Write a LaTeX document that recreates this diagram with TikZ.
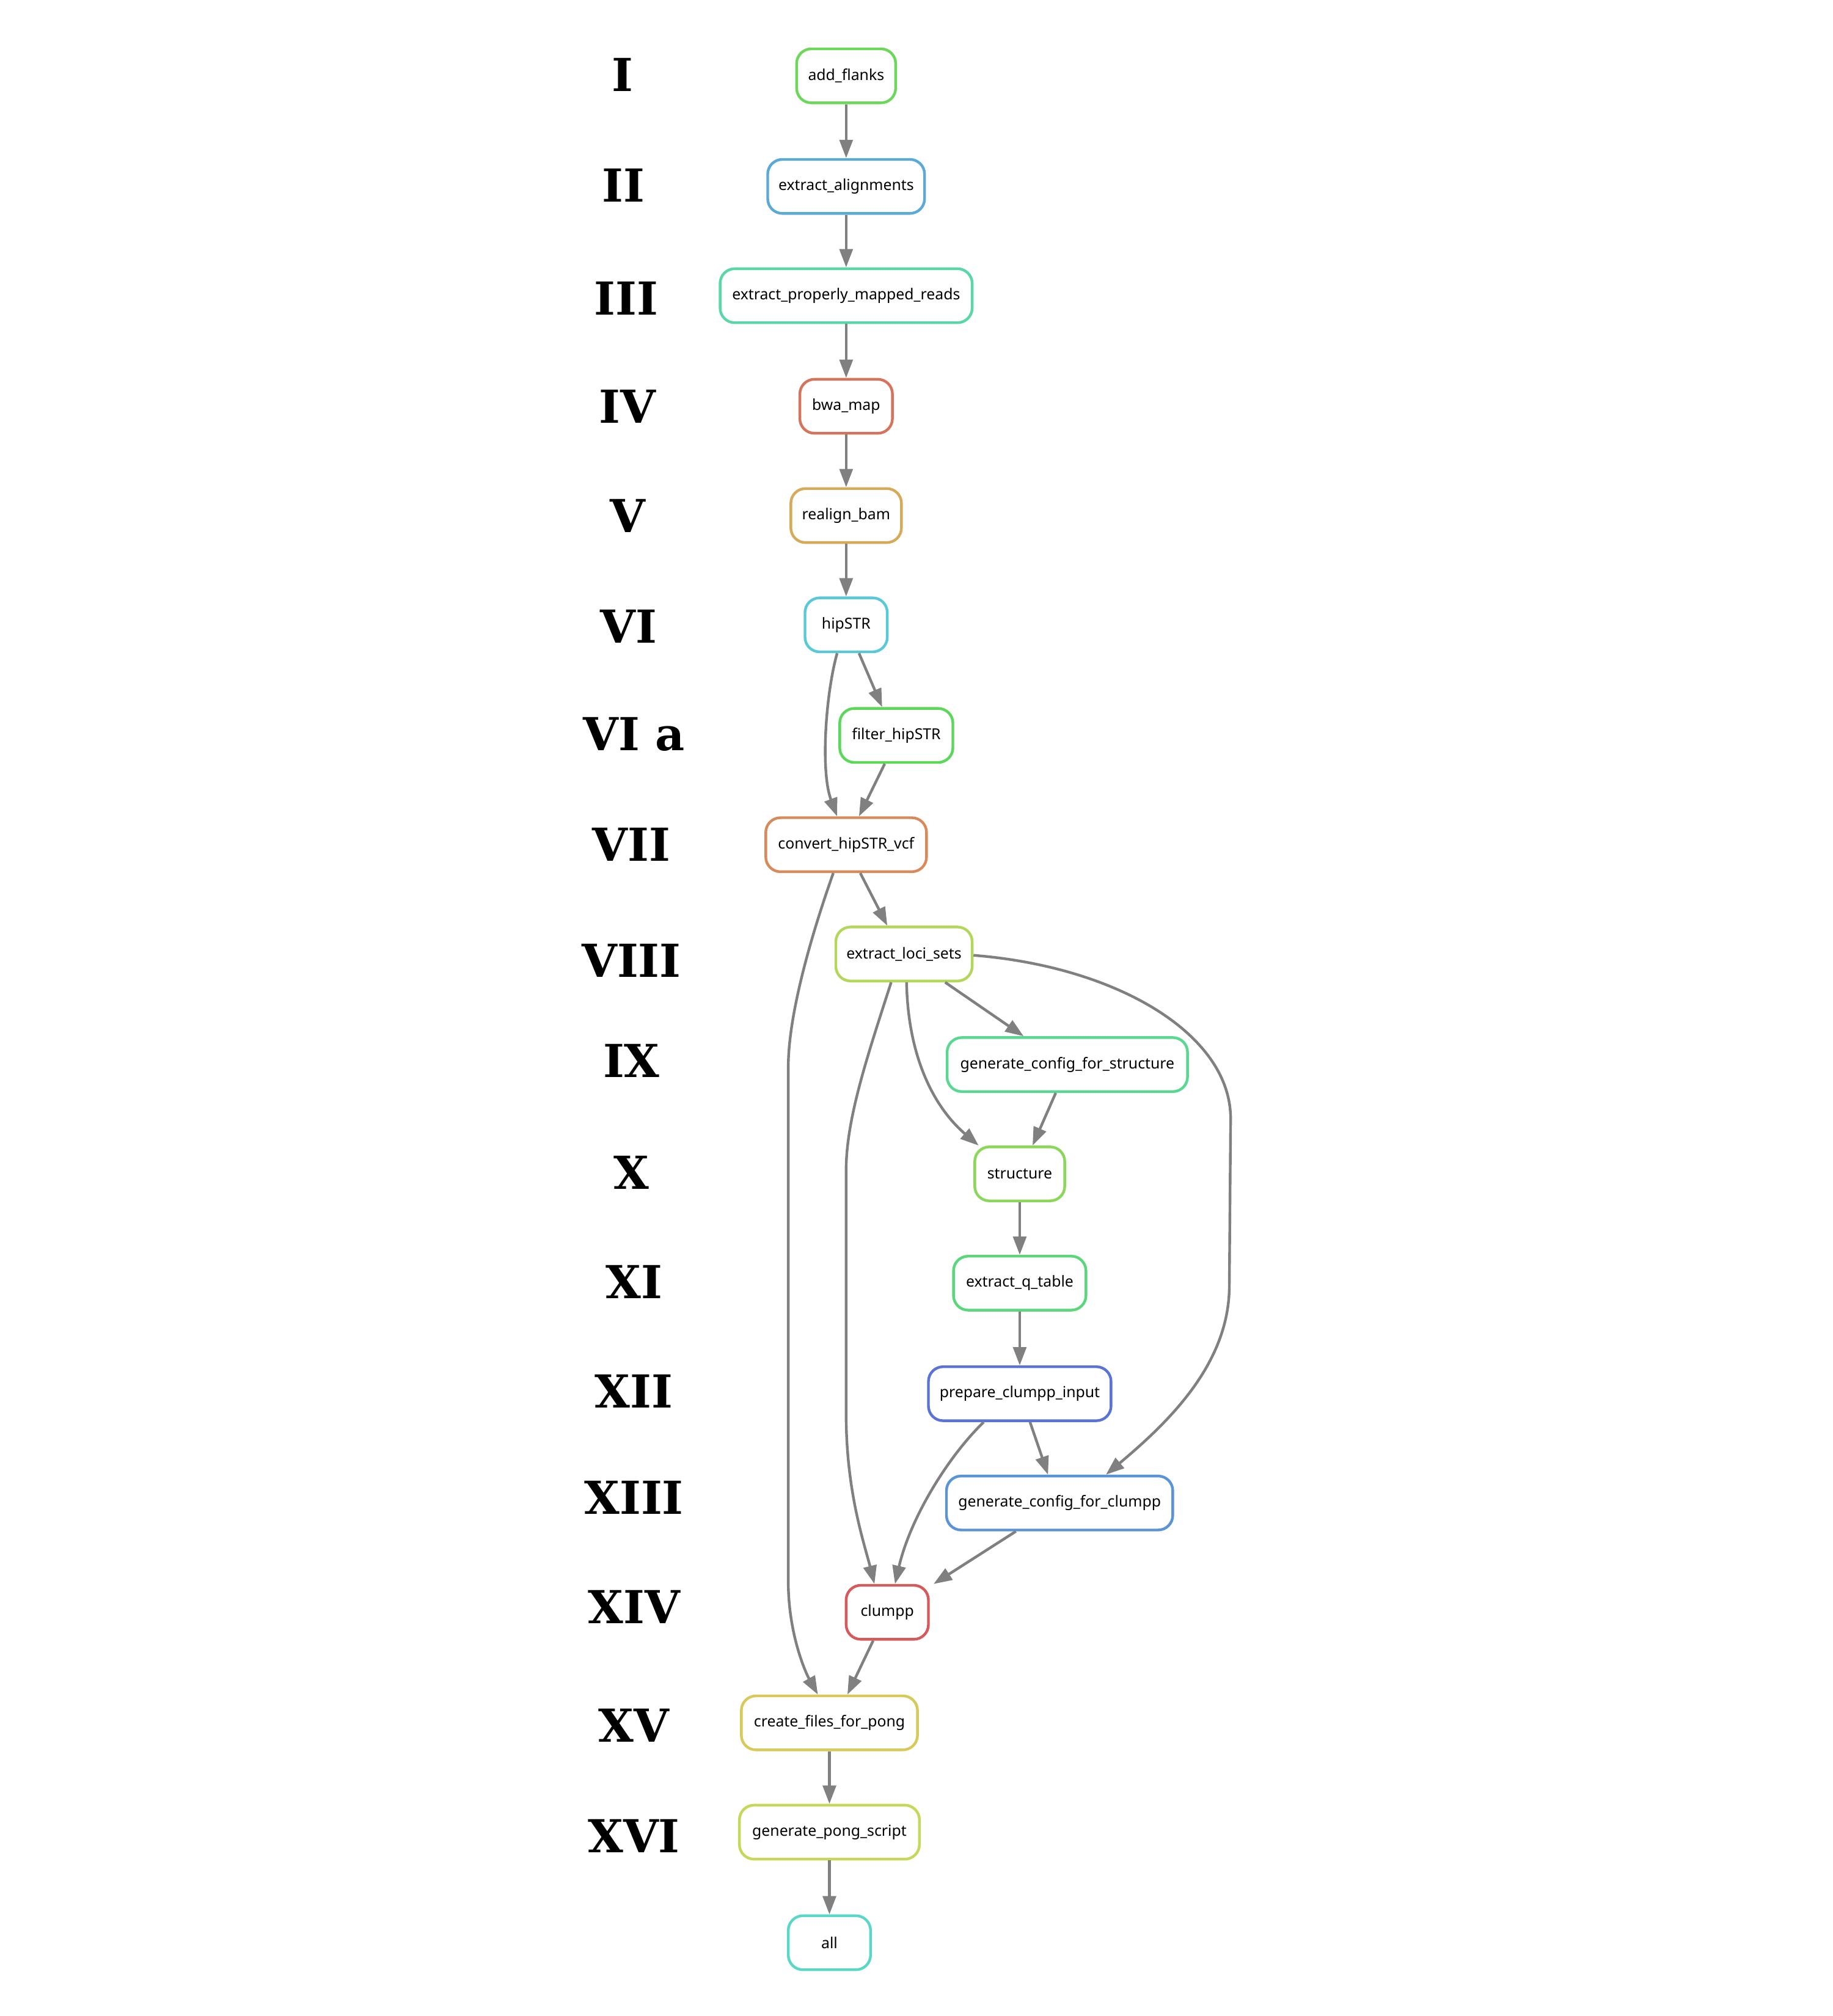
\documentclass[tikz,border=0pt]{standalone}
\usepackage{fontspec}
\setmainfont{Liberation Serif}
\newfontfamily\nodefont{Noto Sans}
\newfontfamily\lblfont{DejaVu Serif}
\usetikzlibrary{arrows.meta}
\newlength\un \setlength\un{0.5263pt}
\definecolor{edgegray}{HTML}{808080}
\definecolor{cA}{HTML}{6DD75A}
\definecolor{cB}{HTML}{5AA9D7}
\definecolor{cC}{HTML}{5AD7A6}
\definecolor{cD}{HTML}{D7735A}
\definecolor{cE}{HTML}{D7AA5A}
\definecolor{cF}{HTML}{5AC9D7}
\definecolor{cG}{HTML}{5BD75A}
\definecolor{cH}{HTML}{D78B5A}
\definecolor{cI}{HTML}{B2D75A}
\definecolor{cJ}{HTML}{5AD790}
\definecolor{cK}{HTML}{8BD75A}
\definecolor{cL}{HTML}{5AD77A}
\definecolor{cM}{HTML}{5A73D7}
\definecolor{cN}{HTML}{5A94D7}
\definecolor{cO}{HTML}{D75A5A}
\definecolor{cP}{HTML}{D7C95A}
\definecolor{cQ}{HTML}{C6D75A}
\definecolor{cR}{HTML}{5AD7C6}
\begin{document}
\begin{tikzpicture}[x=0.5263pt,y=-0.5263pt,
  box/.style={draw, line width=1.1pt, rounded corners=6pt, fill=white,
    minimum height=42*\un, inner sep=0pt,
    font=\nodefont\fontsize{6.2pt}{7.5pt}\selectfont},
  edge/.style={line width=1.1pt, draw=edgegray,
    -{Triangle[length=7.5pt,width=5.4pt,fill=edgegray]}},
  lbl/.style={font=\lblfont\bfseries\fontsize{18.6pt}{22pt}\selectfont, inner sep=0pt}]
\fill[white] (0,0) rectangle (1425,1568);
\useasboundingbox (0,0) rectangle (1425,1568);

% row labels
\node[lbl] (l1)  at (484,58)   {I};
\node[lbl] (l2)  at (485,144)  {II};
\node[lbl] (l3)  at (487,232)  {III};
\node[lbl] (l4)  at (488,316)  {IV};
\node[lbl] (l5)  at (488,401)  {V};
\node[lbl] (l6)  at (489,487)  {VI};
\node[lbl] (l6a) at (493,571)  {VI a};
\node[lbl] (l7)  at (491,657)  {VII};
\node[lbl] (l8)  at (491,747)  {VIII};
\node[lbl] (l9)  at (491,825)  {IX};
\node[lbl] (l10) at (491,912)  {X};
\node[lbl] (l11) at (493,997)  {XI};
\node[lbl] (l12) at (493,1082) {XII};
\node[lbl] (l13) at (493,1165) {XIII};
\node[lbl] (l14) at (493,1250) {XIV};
\node[lbl] (l15) at (493,1342) {XV};
\node[lbl] (l16) at (493,1428) {XVI};

% nodes
\node[box, draw=cA, minimum width=77*\un]  (af)   at (658,59)   {add\_flanks};
\node[box, draw=cB, minimum width=122*\un] (ea)   at (658,145)  {extract\_alignments};
\node[box, draw=cC, minimum width=196*\un] (epmr) at (658,230)  {extract\_properly\_mapped\_reads};
\node[box, draw=cD, minimum width=72*\un]  (bwa)  at (658,316)  {bwa\_map};
\node[box, draw=cE, minimum width=86*\un]  (rb)   at (658,401)  {realign\_bam};
\node[box, draw=cF, minimum width=64*\un]  (hip)  at (658,486)  {hipSTR};
\node[box, draw=cG, minimum width=88*\un]  (fh)   at (697,572)  {filter\_hipSTR};
\node[box, draw=cH, minimum width=125*\un] (chv)  at (658,657)  {convert\_hipSTR\_vcf};
\node[box, draw=cI, minimum width=106*\un] (els)  at (703,742)  {extract\_loci\_sets};
\node[box, draw=cJ, minimum width=187*\un] (gcfs) at (830,828)  {generate\_config\_for\_structure};
\node[box, draw=cK, minimum width=70*\un]  (str)  at (793,913)  {structure};
\node[box, draw=cL, minimum width=103*\un] (eqt)  at (793,998)  {extract\_q\_table};
\node[box, draw=cM, minimum width=142*\un] (pci)  at (793,1084) {prepare\_clumpp\_input};
\node[box, draw=cN, minimum width=176*\un] (gcfc) at (824,1169) {generate\_config\_for\_clumpp};
\node[box, draw=cO, minimum width=64*\un]  (clu)  at (690,1254) {clumpp};
\node[box, draw=cP, minimum width=137*\un] (cffp) at (645,1340) {create\_files\_for\_pong};
\node[box, draw=cQ, minimum width=140*\un] (gps)  at (645,1425) {generate\_pong\_script};
\node[box, draw=cR, minimum width=64*\un]  (all)  at (645,1511) {all};

% edges
\draw[edge] (af) -- (ea);
\draw[edge] (ea) -- (epmr);
\draw[edge] (epmr) -- (bwa);
\draw[edge] (bwa) -- (rb);
\draw[edge] (rb) -- (hip);
\draw[edge] ([xshift=10*\un]hip.south) -- ([xshift=-11*\un]fh.north);
\draw[edge] ([xshift=-7*\un]hip.south) .. controls (642,540) and (638,600) .. ([xshift=-7*\un]chv.north);
\draw[edge] ([xshift=-9*\un]fh.south) -- ([xshift=10*\un]chv.north);
\draw[edge] ([xshift=11*\un]chv.south) -- ([xshift=-13*\un]els.north);
\draw[edge] ([xshift=-10*\un]chv.south) .. controls (630,730) and (613,790) .. (613,830)
  -- (613,1230) .. controls (613,1270) and (626,1300) .. ([xshift=-9*\un]cffp.north);
\draw[edge] ([xshift=32*\un]els.south) -- ([xshift=-34*\un]gcfs.north);
\draw[edge] ([xshift=2*\un]els.south) .. controls (706,820) and (725,860) .. ([xshift=-32*\un]str.north);
\draw[edge] ([xshift=-9*\un]gcfs.south) -- ([xshift=10*\un]str.north);
\draw[edge] ([xshift=-10*\un]els.south) .. controls (675,820) and (658,870) .. (658,910)
  -- (658,1100) .. controls (658,1160) and (672,1200) .. ([xshift=-10*\un]clu.north);
\draw[edge] ([yshift=-1*\un]els.east) .. controls (870,752) and (957,805) .. (957,870)
  -- (956,1000) .. controls (956,1060) and (910,1105) .. ([xshift=36*\un]gcfc.north);
\draw[edge] (str) -- (eqt);
\draw[edge] (eqt) -- (pci);
\draw[edge] ([xshift=8*\un]pci.south) -- ([xshift=-9*\un]gcfc.north);
\draw[edge] ([xshift=-28*\un]pci.south) .. controls (738,1132) and (708,1180) .. ([xshift=6*\un]clu.north);
\draw[edge] ([xshift=-34*\un]gcfc.south) -- ([xshift=3*\un]clu.north east);
\draw[edge] ([xshift=-11*\un]clu.south) -- ([xshift=14*\un]cffp.north);
\draw[edge] (cffp) -- (gps);
\draw[edge] (gps) -- (all);
\end{tikzpicture}
\end{document}
